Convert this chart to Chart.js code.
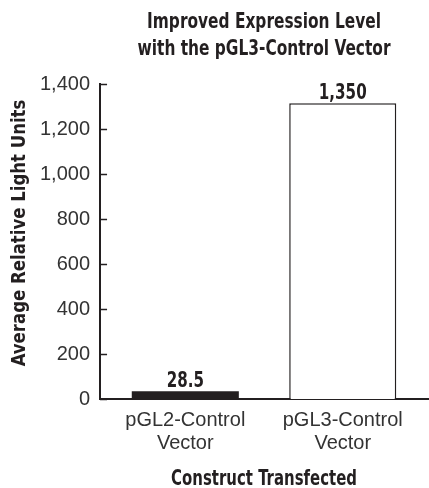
<!DOCTYPE html>
<html>
<head>
<meta charset="utf-8">
<script src="https://cdn.jsdelivr.net/npm/chart.js@4/dist/chart.umd.min.js"></script>
<style>
  html, body { margin: 0; padding: 0; background: #fff; }
  #wrap { width: 429px; height: 488px; position: relative; }
</style>
</head>
<body>
<div id="wrap"><canvas id="c"></canvas></div>
<script>
  /* data */
  var categories = [["pGL2-Control", "Vector"], ["pGL3-Control", "Vector"]];
  var drawnValues = [35, 1315];
  var valueLabels = ["28.5", "1,350"];
  var yTicks = [0, 200, 400, 600, 800, 1000, 1200, 1400];
  var titleLines = ["Improved Expression Level", "with the pGL3-Control Vector"];
  var xTitle = "Construct Transfected";
  var yTitle = "Average Relative Light Units";

  var INK = "#231f20";
  var BOLD = "'DejaVu Sans Condensed', 'Liberation Sans Narrow', sans-serif";
  var THIN = "'Liberation Sans', Arial, sans-serif";

  /* condensed bold text: squeeze horizontally */
  function squeezed(ctx, text, x, y, size, sx, rot) {
    ctx.save();
    ctx.translate(x, y);
    if (rot) ctx.rotate(rot);
    ctx.scale(sx, 1);
    ctx.font = "bold " + size + "px " + BOLD;
    ctx.textAlign = "center";
    ctx.textBaseline = "alphabetic";
    ctx.fillStyle = INK;
    ctx.fillText(text, 0, 0);
    ctx.restore();
  }

  var decor = {
    id: "decor",
    afterDraw: function (chart) {
      var ctx = chart.ctx;
      var area = chart.chartArea;
      var y = chart.scales.y;
      var mid = (area.left + area.right) / 2;

      /* inward tick marks */
      ctx.save();
      ctx.strokeStyle = INK;
      ctx.lineWidth = 1.5;
      yTicks.forEach(function (t) {
        var py = Math.round(y.getPixelForValue(t)) + 0.5;
        ctx.beginPath();
        ctx.moveTo(area.left, py);
        ctx.lineTo(area.left + 7, py);
        ctx.stroke();
      });
      ctx.restore();

      /* values over bars */
      chart.getDatasetMeta(0).data.forEach(function (bar, i) {
        squeezed(ctx, valueLabels[i], bar.x, bar.y - 4, 21, 0.8);
      });

      /* titles */
      squeezed(ctx, titleLines[0], mid, 28, 21, 0.815);
      squeezed(ctx, titleLines[1], mid, 55, 21, 0.815);
      squeezed(ctx, xTitle, mid, 485, 20.5, 0.81);
      squeezed(ctx, yTitle, 25, 233, 20, 0.92, -Math.PI / 2);
    }
  };

  new Chart(document.getElementById("c"), {
    type: "bar",
    data: {
      labels: categories,
      datasets: [{
        data: drawnValues,
        backgroundColor: [INK, "#ffffff"],
        borderColor: INK,
        borderWidth: [0, 1.5],
        barPercentage: 0.68,
        categoryPercentage: 1
      }]
    },
    options: {
      responsive: true,
      maintainAspectRatio: false,
      animation: false,
      layout: { padding: { top: 84, right: 1, bottom: 23, left: 30 } },
      plugins: {
        legend: { display: false },
        tooltip: { enabled: false },
        title: { display: false }
      },
      scales: {
        x: {
          grid: { display: false, drawTicks: false },
          border: { color: INK, width: 2 },
          ticks: { color: "#333", font: { family: THIN, size: 20, lineHeight: 1.15 }, padding: 10 },
          afterBuildTicks: function (axis) {
            /* categories sit a little closer together than the full axis width */
            axis._valueRange = 2.083;
            axis._startValue = -0.5415;
          }
        },
        y: {
          min: 0,
          max: 1400,
          afterBuildTicks: function (axis) {
            axis.ticks = yTicks.map(function (v) { return { value: v }; });
          },
          grid: { display: false, drawTicks: false },
          border: { color: INK, width: 2 },
          ticks: {
            color: "#333",
            font: { family: THIN, size: 20 },
            padding: 10,
            callback: function (v) { return v.toLocaleString("en-US"); }
          }
        }
      }
    },
    plugins: [decor]
  });
</script>
</body>
</html>
